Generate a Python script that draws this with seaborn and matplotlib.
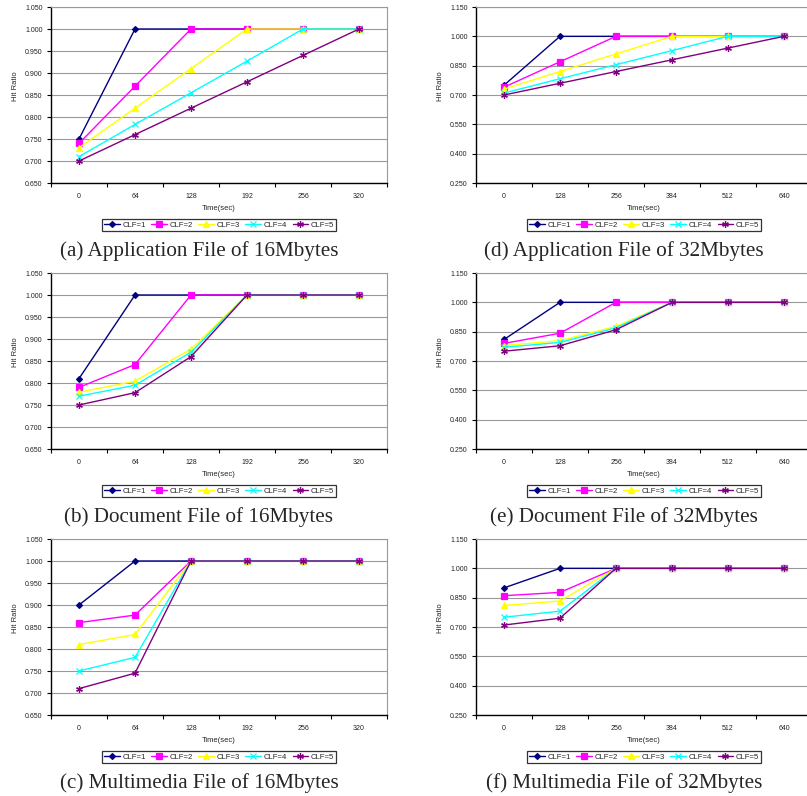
# Hit ratio over time for different CLF values, 6 panels (16MB / 32MB files)

import numpy as np
import pandas as pd
import seaborn as sns
import matplotlib.pyplot as plt
from matplotlib.ticker import FixedLocator, FormatStrFormatter

# x categories
times_16 = ['0', '64', '128', '192', '256', '320']
times_32 = ['0', '128', '256', '384', '512', '640']
clf_labels = ['CLF=1', 'CLF=2', 'CLF=3', 'CLF=4', 'CLF=5']

# Hit ratios (same shape for 16MB and 32MB files)
app_clf1 = [0.750, 1.000, 1.000, 1.000, 1.000, 1.000]
app_clf2 = [0.740, 0.870, 1.000, 1.000, 1.000, 1.000]
app_clf3 = [0.730, 0.820, 0.910, 1.000, 1.000, 1.000]
app_clf4 = [0.710, 0.783, 0.855, 0.927, 1.000, 1.000]
app_clf5 = [0.700, 0.760, 0.820, 0.880, 0.940, 1.000]

doc_clf1 = [0.810, 1.000, 1.000, 1.000, 1.000, 1.000]
doc_clf2 = [0.790, 0.842, 1.000, 1.000, 1.000, 1.000]
doc_clf3 = [0.779, 0.804, 0.877, 1.000, 1.000, 1.000]
doc_clf4 = [0.770, 0.795, 0.870, 1.000, 1.000, 1.000]
doc_clf5 = [0.750, 0.778, 0.860, 1.000, 1.000, 1.000]

mm_clf1 = [0.900, 1.000, 1.000, 1.000, 1.000, 1.000]
mm_clf2 = [0.860, 0.877, 1.000, 1.000, 1.000, 1.000]
mm_clf3 = [0.810, 0.833, 1.000, 1.000, 1.000, 1.000]
mm_clf4 = [0.750, 0.781, 1.000, 1.000, 1.000, 1.000]
mm_clf5 = [0.710, 0.745, 1.000, 1.000, 1.000, 1.000]

captions = ['(a) Application File of 16Mbytes', '(b) Document File of 16Mbytes',
            '(c) Multimedia File of 16Mbytes', '(d) Application File of 32Mbytes',
            '(e) Document File of 32Mbytes', '(f) Multimedia File of 32Mbytes']

yticks_16 = [0.650, 0.700, 0.750, 0.800, 0.850, 0.900, 0.950, 1.000, 1.050]
yticks_32 = [0.250, 0.400, 0.550, 0.700, 0.850, 1.000, 1.150]

colors = ['#000080', '#FF00FF', '#FFFF00', '#00FFFF', '#800080']
markers = ['D', 's', '^', 'x', (6, 2, 0)]
msizes = [3.0, 3.8, 3.8, 4.2, 4.8]


def make_df(series, times):
    rows = []
    for lab, vals in zip(clf_labels, series):
        for i, (t, v) in enumerate(zip(times, vals)):
            rows.append({'pos': i, 'time': t, 'clf': lab, 'ratio': v})
    return pd.DataFrame(rows)


datasets = [
    [app_clf1, app_clf2, app_clf3, app_clf4, app_clf5],
    [doc_clf1, doc_clf2, doc_clf3, doc_clf4, doc_clf5],
    [mm_clf1, mm_clf2, mm_clf3, mm_clf4, mm_clf5],
]

sns.set_style('white')
plt.rcParams['font.family'] = ['Liberation Sans', 'DejaVu Sans']

W, H = 807, 796
fig = plt.figure(figsize=(W / 100, H / 100), dpi=100)

# pixel boxes: (left, top) of each plot area, size 336x176
lefts = [51, 476]
tops = [7, 273, 539]
aw, ah = 336, 176

for col in range(2):
    times = times_16 if col == 0 else times_32
    yt = yticks_16 if col == 0 else yticks_32
    for row in range(3):
        df = make_df(datasets[row], times)
        l, t = lefts[col], tops[row]
        ax = fig.add_axes([l / W, (H - t - ah) / H, aw / W, ah / H])

        for k, lab in enumerate(clf_labels):
            sub = df[df['clf'] == lab]
            sns.lineplot(data=sub, x='pos', y='ratio', ax=ax, color=colors[k],
                         marker=markers[k], markersize=msizes[k],
                         markeredgecolor=colors[k], markeredgewidth=0.9,
                         linewidth=1.0, label=lab, zorder=3 + k)

        ax.set_xlim(-0.5, 5.5)
        ax.set_ylim(yt[0], yt[-1])
        ax.set_xticks(range(6))
        ax.set_xticklabels(times)
        ax.xaxis.set_minor_locator(FixedLocator(np.arange(-0.5, 6.0, 1.0)))
        ax.set_yticks(yt)
        ax.yaxis.set_major_formatter(FormatStrFormatter('%.3f'))
        ax.tick_params(axis='x', which='major', length=0, pad=7, labelsize=5,
                       colors='#222222')
        ax.tick_params(axis='x', which='minor', length=3, width=0.8,
                       direction='out', bottom=True, color='black')
        ax.tick_params(axis='y', length=3, width=0.8, direction='out', left=True,
                       pad=3, labelsize=5, colors='black', labelcolor='#222222')
        ax.grid(axis='y', color='#999999', linewidth=0.8)
        ax.grid(axis='x', visible=False)
        for s in ['left', 'bottom']:
            ax.spines[s].set_color('black')
            ax.spines[s].set_linewidth(1.0)
        for s in ['top', 'right']:
            ax.spines[s].set_color('#999999')
            ax.spines[s].set_linewidth(0.8)

        ax.set_xlabel('Time(sec)', fontsize=5.5, labelpad=4)
        ax.set_ylabel('Hit Ratio', fontsize=5.5)
        ax.yaxis.set_label_coords(-32 / aw, 0.55)

        leg = ax.legend(loc='center', bbox_to_anchor=(0.5, -42 / ah), ncol=5,
                        fontsize=5.6, frameon=True, fancybox=False,
                        edgecolor='black', borderpad=0.35, handlelength=2.0,
                        handletextpad=0.3, columnspacing=0.75,
                        borderaxespad=0)
        leg.get_frame().set_linewidth(0.9)

        ax.text(0.5 - 20 / aw, -68 / ah, captions[col * 3 + row],
                transform=ax.transAxes, ha='center', va='center', fontsize=15.2,
                family=['Liberation Serif', 'DejaVu Serif'])

fig.savefig('out.png', dpi=100)
